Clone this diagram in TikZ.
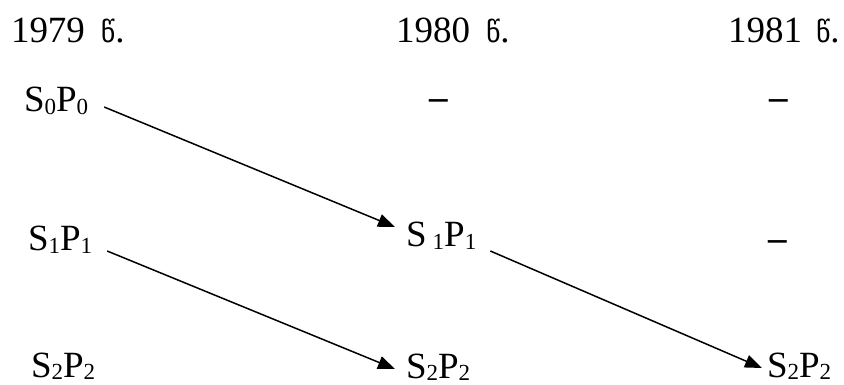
\documentclass[tikz,border=0pt]{standalone}
\usepackage{fontspec}
\setmainfont{Liberation Serif}
\newfontfamily\geo{DejaVu Sans}
\usetikzlibrary{arrows.meta}
\newcommand{\sbx}[1]{\raisebox{-2.5pt}{\fontsize{23}{23}\selectfont #1}}
\newcommand{\gw}{{\geo\fontsize{28}{28}\selectfont წ}}
\begin{document}
\begin{tikzpicture}[x=1pt,y=-1pt,
  lbl/.style={inner sep=0pt,outer sep=0pt,anchor=base west,font=\fontsize{37}{40}\selectfont},
  dsh/.style={inner sep=0pt,outer sep=0pt,anchor=base,font=\fontsize{37}{40}\selectfont\bfseries},
  conn/.style={line width=1.5pt,-{Triangle[length=17pt,width=13pt]}}]
\useasboundingbox (0,0) rectangle (844,385);
% headers
\node[lbl] (h1) at (11,43) {1979\hspace{16pt}\gw.};
\node[lbl] (h2) at (396,43) {1980\hspace{16pt}\gw.};
\node[lbl] (h3) at (728,43) {1981\hspace{14pt}\gw.};
% row 0
\node[lbl] (s00) at (24,112) {S\sbx{0}P\sbx{0}};
\node[dsh] (d1) at (439,110) {–};
\node[dsh] (d2) at (779,110) {–};
% row 1
\node[lbl] (s11l) at (28,251) {S\sbx{1}P\sbx{1}};
\node[lbl] (s11m) at (406,247) {S\,\sbx{1}P\sbx{1}};
\node[dsh] (d3) at (778,250) {–};
% row 2
\node[lbl] (s22l) at (31,377) {S\sbx{2}P\sbx{2}};
\node[lbl] (s22m) at (406,378) {S\sbx{2}P\sbx{2}};
\node[lbl] (s22r) at (767,377) {S\sbx{2}P\sbx{2}};
% connectors
\draw[conn] ([xshift=16pt,yshift=5pt]s00.base east) -- ([xshift=-11pt,yshift=20pt]s11m.base west);
\draw[conn] ([xshift=15pt,yshift=0pt]s11l.base east) -- ([xshift=-11pt,yshift=9pt]s22m.base west);
\draw[conn] ([xshift=14pt,yshift=-4pt]s11m.base east) -- ([xshift=-5pt,yshift=9pt]s22r.base west);
\end{tikzpicture}
\end{document}
